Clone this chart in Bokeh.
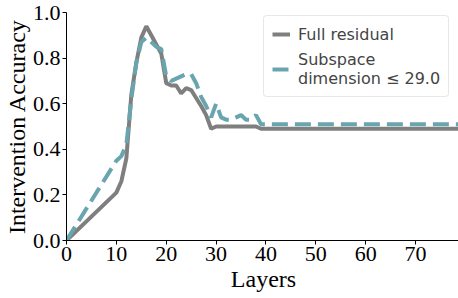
from bokeh.plotting import figure
from bokeh.models import ColumnDataSource, Legend, LegendItem, FixedTicker, Range1d
from bokeh.embed import file_html
from bokeh.resources import INLINE

layers = [0] + list(range(10, 80))
full_residual = [0.0, 0.21, 0.26, 0.36, 0.64, 0.78, 0.89, 0.94, 0.90, 0.86, 0.82,
                 0.69, 0.68, 0.68, 0.645, 0.668, 0.66, 0.625, 0.59, 0.55, 0.49] + \
                [0.50] * 9 + [0.49] * 41
subspace = [0.0, 0.35, 0.37, 0.42, 0.62, 0.78, 0.87, 0.89, 0.87, 0.85, 0.84,
            0.72, 0.70, 0.71, 0.72, 0.73, 0.73, 0.69, 0.63, 0.59, 0.54,
            0.60, 0.54, 0.53, 0.53, 0.54, 0.55, 0.53, 0.53, 0.55, 0.51] + [0.51] * 40
x_ticks = [0, 10, 20, 30, 40, 50, 60, 70]
y_ticks = [0.0, 0.2, 0.4, 0.6, 0.8, 1.0]
labels = ["Full residual", "Subspace\ndimension \u2264 29.0"]

GRAY = "#7f7f7f"
TEAL = "#69a5ae"
SERIF = "Liberation Serif"

p = figure(frame_width=394, frame_height=228, output_backend="svg", toolbar_location=None,
           x_range=Range1d(0, 79), y_range=Range1d(0, 1.0),
           min_border_left=63, min_border_top=12, min_border_right=1, min_border_bottom=58)
p.outline_line_color = None
p.grid.visible = False
p.background_fill_color = "white"

src = ColumnDataSource(dict(x=layers, full=full_residual, sub=subspace))
r1 = p.line("x", "full", source=src, line_color=GRAY, line_width=4)
r2 = p.line("x", "sub", source=src, line_color=TEAL, line_width=4, line_dash="16 7")

for ax in (p.xaxis[0], p.yaxis[0]):
    ax.major_label_text_font = SERIF
    ax.major_label_text_font_size = "22px"
    ax.major_label_text_color = "black"
    ax.axis_label_text_font = SERIF
    ax.axis_label_text_font_size = "24px"
    ax.axis_label_text_font_style = "normal"
    ax.axis_label_text_color = "black"
    ax.axis_line_color = "black"
    ax.axis_line_width = 1
    ax.major_tick_line_color = "black"
    ax.major_tick_out = 4
    ax.major_tick_in = 0
    ax.minor_tick_line_color = None
    ax.major_label_standoff = 2

p.yaxis[0].axis_label_standoff = 0
p.xaxis[0].axis_label_standoff = 2
p.xaxis[0].ticker = FixedTicker(ticks=x_ticks)
p.yaxis[0].ticker = FixedTicker(ticks=y_ticks)
p.yaxis[0].major_label_overrides = {v: f"{v:.1f}" for v in y_ticks}
p.xaxis[0].axis_label = "Layers"
p.yaxis[0].axis_label = "Intervention Accuracy"

legend = Legend(items=[LegendItem(label=labels[0], renderers=[r1]),
                       LegendItem(label=labels[1], renderers=[r2])],
                location=(197, 143), margin=0)
legend.label_text_font = "DejaVu Sans"
legend.label_text_font_size = "16px"
legend.label_text_line_height = 1.0
legend.glyph_width = 18
legend.label_standoff = 8
legend.spacing = 6
legend.padding = 8
legend.border_line_color = "#d0d0d0"
legend.border_line_width = 1
legend.background_fill_alpha = 0.9
try:
    legend.border_radius = 4
except Exception:
    pass
p.add_layout(legend)

open("out.html", "w").write(file_html(p, INLINE))
